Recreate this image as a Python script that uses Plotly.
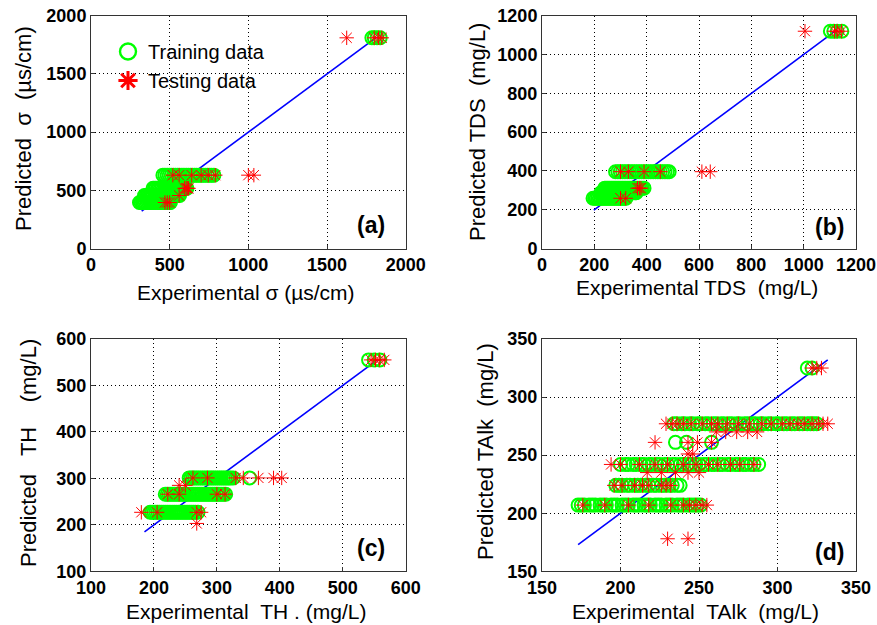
import plotly.graph_objects as go

FONT = "Liberation Sans"

# ---------------- Panel (a): electrical conductivity sigma ----------------
a_train_levels = [395, 455, 517, 630, 1810]
a_train_x = [
    [308, 318, 327, 336, 345, 355, 364, 373, 382, 391, 400, 410, 419, 428, 437, 446, 456, 465, 474, 483, 492, 500, 505],
    [340, 349, 358, 368, 377, 386, 395, 405, 414, 423, 432, 442, 451, 460, 470, 479, 488, 498, 507, 516, 526, 535, 545, 554, 563],
    [394, 403, 412, 422, 431, 440, 449, 459, 468, 477, 487, 496, 505, 515, 524, 533, 542, 552, 561, 570, 580, 589, 598, 605, 610],
    [457, 470, 484, 497, 510, 524, 537, 551, 564, 578, 591, 605, 618, 632, 645, 659, 672, 686, 699, 713, 726, 740, 754, 767, 781],
    [1785, 1800, 1818, 1838],
]
a_test_levels = [395, 455, 517, 630, 1810]
a_test_x = [
    [470, 485, 500],
    [560],
    [595, 605, 612, 620],
    [520, 560, 640, 700, 745, 790, 1000, 1035],
    [1625, 1800, 1828, 1848],
]
a_fit = [322, 1816]

# ---------------- Panel (b): TDS ----------------
b_train_levels = [259, 287, 311, 396, 1120]
b_train_x = [
    [195, 201, 207, 213, 219, 225, 231, 237, 243, 249, 255, 261, 267, 273, 279, 285, 291, 297, 303, 309, 315, 321],
    [225, 231, 237, 243, 249, 255, 261, 267, 273, 279, 285, 291, 297, 303, 309, 315, 321, 327, 333, 339, 345, 351, 357, 360],
    [240, 246, 252, 258, 264, 270, 276, 282, 288, 294, 300, 306, 312, 318, 324, 330, 336, 342, 348, 354, 360, 366, 372, 378, 384, 390],
    [281, 290, 299, 308, 317, 326, 335, 344, 353, 362, 371, 380, 389, 398, 407, 416, 425, 434, 443, 452, 461, 470, 479, 486],
    [1102, 1115, 1128, 1146],
]
b_test_levels = [259, 311, 396, 1120]
b_test_x = [
    [300, 320],
    [365, 372, 378],
    [300, 330, 390, 452, 611, 643],
    [1005, 1118, 1128, 1144],
]
b_fit = [198, 1120]

# ---------------- Panel (c): TH ----------------
c_train_levels = [227, 266, 301, 555]
c_train_x = [
    [194, 197, 200, 203, 206, 209, 212, 215, 218, 221, 224, 227, 230, 233, 236, 239, 242, 245, 248, 251, 254, 257, 260, 263, 266, 270],
    [218, 221, 224, 227, 230, 233, 236, 239, 242, 245, 248, 251, 254, 257, 260, 263, 266, 269, 272, 275, 278, 281, 284, 287, 290, 293, 296, 299, 302, 305, 308, 311, 314],
    [256, 259, 262, 265, 268, 271, 274, 277, 280, 283, 286, 289, 292, 295, 298, 301, 304, 307, 310, 313, 316, 319, 322, 326, 352],
    [541, 550, 559],
]
c_test_levels = [203, 227, 266, 285, 301, 555]
c_test_x = [
    [268],
    [180, 205, 268, 275],
    [222, 240, 300, 313],
    [240, 250],
    [262, 285, 330, 342, 366, 390, 403],
    [545, 552, 558, 566],
]
c_fit = [185, 555]

# ---------------- Panel (d): TAlk ----------------
d_train_levels = [207, 224, 242, 261, 277, 325]
d_train_x = [
    [173, 175, 177, 180, 182, 184, 187, 189, 191, 194, 196, 198, 201, 203, 205, 208, 210, 212, 215, 217,
     219, 222, 224, 226, 229, 231, 233, 236, 238, 240, 243, 245, 247, 249, 251],
    [197, 199, 201, 204, 206, 209, 211, 213, 216, 218, 221, 223, 226, 228, 231, 233, 236, 238],
    [200, 203, 205, 208, 210, 213, 215, 218, 220, 223, 225, 228, 230, 233, 235, 238, 240, 243, 245, 248,
     250, 253, 255, 258, 260, 263, 265, 268, 270, 273, 275, 278, 280, 283, 285, 288],
    [235, 242, 258],
    [234, 236, 239, 241, 244, 246, 249, 251, 254, 256, 259, 261, 264, 266, 269, 271, 274, 276, 279, 281,
     284, 286, 289, 291, 294, 296, 299, 301, 304, 306, 309, 311, 314, 316, 319, 321, 323, 325],
    [319, 322],
]
d_test_levels = [178, 207, 224, 235, 242, 251, 261, 270, 277, 325]
d_test_x = [
    [230, 243],
    [176, 190, 205, 218, 232, 240, 244, 248, 252, 255],
    [196, 201, 209, 214, 218, 226, 229, 232],
    [217, 226, 235, 243, 250],
    [194, 200, 212, 222, 230, 240, 248, 256, 262, 270, 276, 285],
    [243, 246],
    [222, 243, 249, 258],
    [261, 267, 274, 281, 287],
    [229, 233, 236, 240, 245, 252, 258, 262, 268, 275, 282, 290, 296, 303, 308, 313, 317, 322, 326, 329, 332],
    [322, 325, 328],
]
d_fit = [173, 332]

x_titles = [
    "Experimental \u03c3 (\u00b5s/cm)",
    "Experimental TDS \u00a0(mg/L)",
    "Experimental \u00a0TH . (mg/L)",
    "Experimental \u00a0TAlk \u00a0(mg/L)",
]
y_titles = [
    "Predicted\u00a0 \u03c3 \u00a0(\u00b5s/cm)",
    "Predicted TDS \u00a0(mg/L)",
    "Predicted \u00a0 TH \u00a0\u00a0 (mg/L)",
    "Predicted TAlk \u00a0(mg/L)",
]
panel_labels = ["(a)", "(b)", "(c)", "(d)"]
ranges = [[0, 2000], [0, 1200], [100, 600], [150, 350]]
dticks = [500, 200, 100, 50]


def flatten(levels, xs):
    fx, fy = [], []
    for lv, row in zip(levels, xs):
        for v in row:
            fx.append(v)
            fy.append(lv)
    return fx, fy


panels = [
    (a_train_levels, a_train_x, a_test_levels, a_test_x, a_fit),
    (b_train_levels, b_train_x, b_test_levels, b_test_x, b_fit),
    (c_train_levels, c_train_x, c_test_levels, c_test_x, c_fit),
    (d_train_levels, d_train_x, d_test_levels, d_test_x, d_fit),
]

GREEN = "#00ff00"
RED = "#ff0000"
BLUE = "#0000ff"

fig = go.Figure()
for i, (trl, trx, tel, tex, fit) in enumerate(panels):
    xa = "x" if i == 0 else f"x{i+1}"
    ya = "y" if i == 0 else f"y{i+1}"
    fig.add_trace(go.Scatter(x=fit, y=fit, mode="lines", line=dict(color=BLUE, width=1.6),
                             xaxis=xa, yaxis=ya, showlegend=False, hoverinfo="skip"))
    tx, ty = flatten(trl, trx)
    fig.add_trace(go.Scatter(x=tx, y=ty, mode="markers",
                             marker=dict(symbol="circle-open", size=13, color=GREEN,
                                         line=dict(color=GREEN, width=2)),
                             xaxis=xa, yaxis=ya, showlegend=False, name="Training data"))
    sx, sy = flatten(tel, tex)
    fig.add_trace(go.Scatter(x=sx, y=sy, mode="markers",
                             marker=dict(symbol="asterisk-open", size=12, color=RED,
                                         line=dict(color=RED, width=1)),
                             xaxis=xa, yaxis=ya, showlegend=False, name="Testing data"))

# legend entries
fig.add_trace(go.Scatter(x=[None], y=[None], mode="markers", name="Training data",
                         marker=dict(symbol="circle-open", size=16, color=GREEN,
                                     line=dict(color=GREEN, width=2.4))))
fig.add_trace(go.Scatter(x=[None], y=[None], mode="markers", name="Testing data",
                         marker=dict(symbol="asterisk-open", size=16, color=RED,
                                     line=dict(color=RED, width=3))))

W, H = 877, 625
xdom_l = [91 / W, 405.7 / W]
xdom_r = [542 / W, 856 / W]
ydom_t = [1 - 248.5 / H, 1 - 15.7 / H]
ydom_b = [1 - 571.3 / H, 1 - 339 / H]
xdoms = [xdom_l, xdom_r, xdom_l, xdom_r]
ydoms = [ydom_t, ydom_t, ydom_b, ydom_b]

# title positions (pixel centres) and panel-label positions (axis-domain fractions)
xt_pos = [(246, 292), (697, 287), (246, 611), (695, 611)]
yt_pos = [(23, 129), (477, 132), (28, 453), (486, 452)]
lab_pos = [(0.889, 0.10), (0.917, 0.094), (0.889, 0.10), (0.917, 0.084)]

layout = dict(
    width=W, height=H, margin=dict(l=0, r=0, t=0, b=0, autoexpand=False),
    paper_bgcolor="white", plot_bgcolor="white",
    font=dict(family=FONT, color="black"),
    legend=dict(x=108 / W, y=1 - 32 / H, xanchor="left", yanchor="top",
                bgcolor="rgba(0,0,0,0)", font=dict(size=20, family=FONT, color="black"),
                itemwidth=30, tracegroupgap=0),
    showlegend=True,
)
axcommon = dict(showline=True, mirror=True, linecolor="#333333", linewidth=1,
                ticks="inside", ticklen=4, tickcolor="#333333",
                showgrid=True, gridcolor="black", griddash="1px,3px", gridwidth=1,
                zeroline=False, automargin=False,
                tickfont=dict(family=FONT, size=18, color="black", weight="bold"))
for i in range(4):
    sfx = "" if i == 0 else str(i + 1)
    layout["xaxis" + sfx] = dict(axcommon, domain=xdoms[i], range=ranges[i], dtick=dticks[i],
                                 anchor="y" + sfx)
    layout["yaxis" + sfx] = dict(axcommon, domain=ydoms[i], range=ranges[i], dtick=dticks[i],
                                 anchor="x" + sfx)
fig.update_layout(**layout)

for i in range(4):
    sfx = "" if i == 0 else str(i + 1)
    fig.add_annotation(text=panel_labels[i], xref=f"x{sfx} domain", yref=f"y{sfx} domain",
                       x=lab_pos[i][0], y=lab_pos[i][1], xanchor="center", yanchor="middle",
                       showarrow=False,
                       font=dict(size=23, family=FONT, color="black", weight="bold"))
    fig.add_annotation(text=x_titles[i], xref="paper", yref="paper",
                       x=xt_pos[i][0] / W, y=1 - xt_pos[i][1] / H,
                       xanchor="center", yanchor="middle", showarrow=False,
                       font=dict(size=21, family=FONT, color="black"))
    fig.add_annotation(text=y_titles[i], xref="paper", yref="paper", textangle=-90,
                       x=yt_pos[i][0] / W, y=1 - yt_pos[i][1] / H,
                       xanchor="center", yanchor="middle", showarrow=False,
                       font=dict(size=22, family=FONT, color="black"))

fig.write_html("out.html", config={"displayModeBar": False},
               post_script="document.body.style.margin='0';document.body.style.padding='0';")
